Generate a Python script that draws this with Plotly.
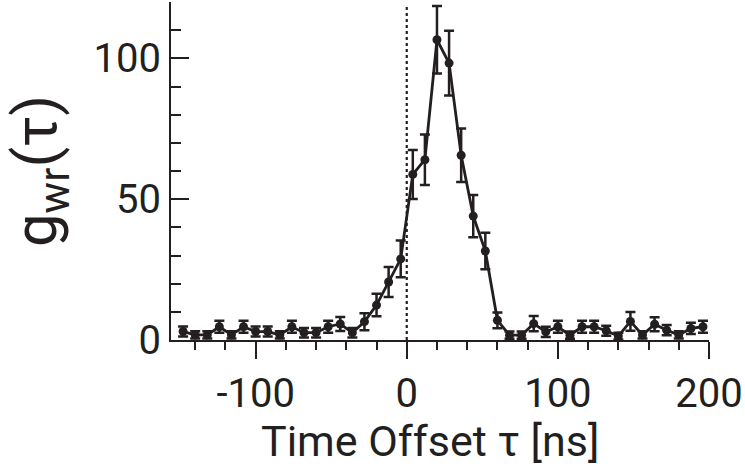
import plotly.graph_objects as go

# Time offsets (ns)
tau = [-148, -140, -132, -124, -116, -108, -100, -92, -84, -76, -68, -60, -52, -44, -36,
       -28, -20, -12, -4, 4, 12, 20, 28, 36, 44, 52, 60, 68, 76, 84, 92, 100, 108, 116,
       124, 132, 140, 148, 156, 164, 172, 180, 188, 196]
# Cross-correlation g_wr(tau)
g_wr = [3.0, 1.8, 1.8, 4.7, 1.8, 4.7, 3.0, 3.0, 1.8, 4.7, 2.6, 2.6, 4.7, 5.7, 2.6,
        6.5, 12.4, 20.6, 28.8, 58.8, 64.0, 106.6, 98.3, 65.6, 44.0, 31.6, 7.0, 1.7, 1.7,
        5.8, 2.9, 4.7, 1.7, 4.7, 4.7, 3.3, 1.4, 6.6, 1.8, 5.6, 3.5, 1.8, 4.1, 4.7]
# Error bars
g_err = [1.8, 1.3, 1.3, 2.1, 1.3, 2.1, 1.8, 1.8, 1.3, 2.1, 1.7, 1.7, 2.1, 2.5, 1.7,
         3.0, 4.0, 5.3, 6.5, 8.7, 9.0, 12.0, 11.5, 9.5, 7.5, 6.5, 2.8, 1.3, 1.3,
         2.7, 1.8, 2.1, 1.3, 2.1, 2.1, 1.8, 1.2, 3.3, 1.3, 2.5, 1.8, 1.3, 2.0, 2.1]

x_ticks = [-100, 0, 100, 200]
x_ticktext = ["-100", "0", "100", "200"]
y_ticks = [0, 50, 100]

ink = "#231f20"
fam = "Roboto, 'Liberation Sans', sans-serif"
tick_font = dict(family=fam, size=40, color=ink)

fig = go.Figure()
fig.add_trace(go.Scatter(
    x=tau, y=g_wr, mode="lines+markers",
    line=dict(color=ink, width=2.8),
    marker=dict(color=ink, size=9),
    error_y=dict(type="data", array=g_err, visible=True, color=ink, thickness=2.5, width=5),
    showlegend=False,
))

fig.add_shape(type="line", x0=0, x1=0, y0=0, y1=119, xref="x", yref="y",
              line=dict(color=ink, width=2.2, dash="dot"), layer="below")

fig.add_annotation(text="Time Offset τ [ns]", xref="paper", yref="paper",
                   x=0.481, y=-0.218, xanchor="center", yanchor="top", showarrow=False,
                   font=dict(family=fam, size=43, color=ink))

fig.update_layout(
    width=745, height=466,
    margin=dict(l=171, r=36, t=2, b=126),
    paper_bgcolor="white", plot_bgcolor="white",
    xaxis=dict(
        range=[-156, 200], tickmode="array", tickvals=x_ticks, ticktext=x_ticktext,
        ticks="outside", ticklen=17, tickwidth=2, tickcolor=ink,
        showline=True, linewidth=2, linecolor=ink,
        showgrid=False, zeroline=False, tickfont=tick_font,
        minor=dict(tick0=0, dtick=20, ticks="outside", ticklen=8, tickwidth=2, tickcolor=ink),
    ),
    yaxis=dict(
        range=[0, 120], tickmode="array", tickvals=y_ticks,
        ticks="inside", ticklen=18, tickwidth=2, tickcolor=ink,
        showline=True, linewidth=2, linecolor=ink,
        showgrid=False, zeroline=False, tickfont=tick_font,
        minor=dict(tick0=0, dtick=10, ticks="inside", ticklen=10, tickwidth=2, tickcolor=ink),
        title=dict(text="g<sub>wr</sub>(τ)", font=dict(family=fam, size=60, color=ink), standoff=20),
    ),
)

fig.write_html("out.html")
